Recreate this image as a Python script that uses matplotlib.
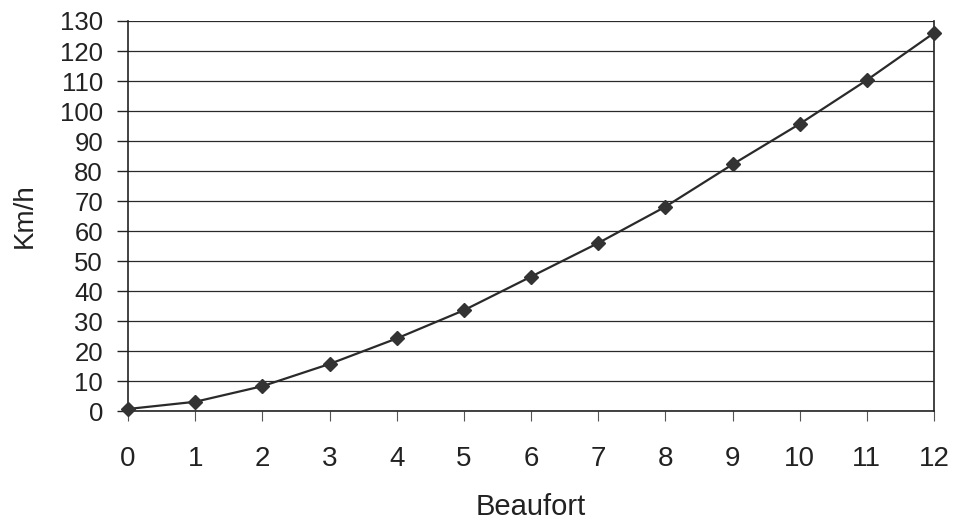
import matplotlib

matplotlib.use("Agg")
import matplotlib.pyplot as plt  # noqa: E402

# Beaufort scale vs wind speed (km/h)
beaufort = [0, 1, 2, 3, 4, 5, 6, 7, 8, 9, 10, 11, 12]
kmh = [0.7, 3.1, 8.3, 15.7, 24.2, 33.6, 44.8, 56.0, 68.1, 82.2, 95.7, 110.3, 126.0]
y_ticks = list(range(0, 131, 10))

plt.rcParams["font.family"] = ["Liberation Sans", "DejaVu Sans"]

fig = plt.figure(figsize=(9.56, 5.25), dpi=100)
ax = fig.add_axes([0.134, 0.217, 0.843, 0.743])

ax.plot(beaufort, kmh, color="#2a2a2a", linewidth=1.6, marker="D",
        markersize=7.5, markerfacecolor="#333333", markeredgecolor="#333333",
        clip_on=False, zorder=3)

ax.set_xlim(0, 12)
ax.set_ylim(0, 130)
ax.set_xticks(beaufort)
ax.set_yticks(y_ticks)
ax.grid(True, axis="y", color="#2a2a2a", linewidth=0.9)
ax.set_axisbelow(True)

for side in ("left", "right", "bottom"):
    ax.spines[side].set_color("#222222")
    ax.spines[side].set_linewidth(1.2)
ax.spines["top"].set_visible(False)

ax.tick_params(axis="y", direction="out", length=8, width=1, color="#222222",
               labelsize=18.5, pad=10, labelcolor="#222222")
ax.tick_params(axis="x", direction="out", length=7, width=0.8, color="#555555",
               labelsize=20, pad=18, labelcolor="#222222")

ax.set_xlabel("Beaufort", fontsize=21, color="#222222", labelpad=15)
ax.set_ylabel("Km/h", fontsize=20, color="#222222", labelpad=16)

fig.savefig("out.png", dpi=100)
